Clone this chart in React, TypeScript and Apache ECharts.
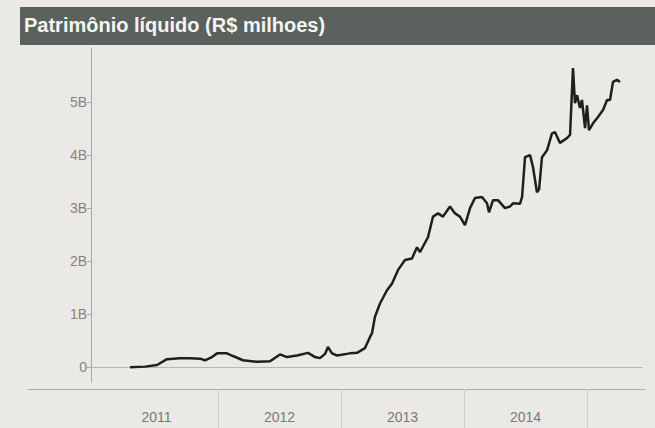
import { useEffect, useRef } from "react";
import * as echarts from "echarts";

const titleText = "Patrimônio líquido (R$ milhoes)";

// time as decimal years
const times = [
  2011.285, 2011.407, 2011.504, 2011.585, 2011.691, 2011.772, 2011.854, 2011.894, 2011.951, 2011.992,
  2012.073, 2012.122, 2012.203, 2012.317, 2012.423, 2012.504, 2012.561, 2012.642, 2012.732, 2012.789,
  2012.829, 2012.870, 2012.894, 2012.927, 2012.967, 2013.073, 2013.130, 2013.195, 2013.236, 2013.252,
  2013.276, 2013.317, 2013.374, 2013.415, 2013.463, 2013.520, 2013.577, 2013.618, 2013.642, 2013.707,
  2013.748, 2013.789, 2013.829, 2013.886, 2013.927, 2013.967, 2014.008, 2014.049, 2014.089, 2014.146,
  2014.187, 2014.203, 2014.236, 2014.276, 2014.333, 2014.374, 2014.398, 2014.455, 2014.472, 2014.496,
  2014.537, 2014.561, 2014.593, 2014.610, 2014.634, 2014.675, 2014.715, 2014.740, 2014.780, 2014.837,
  2014.862, 2014.886, 2014.902, 2014.919, 2014.943, 2014.959, 2014.984, 2015.000, 2015.016, 2015.049,
  2015.089, 2015.130, 2015.163, 2015.187, 2015.211, 2015.244, 2015.268,
];

// patrimônio líquido, R$ billions
const values = [
  0.0, 0.01, 0.04, 0.15, 0.17, 0.17, 0.16, 0.13, 0.19, 0.26,
  0.26, 0.21, 0.13, 0.10, 0.11, 0.24, 0.19, 0.22, 0.27, 0.19,
  0.17, 0.25, 0.38, 0.26, 0.22, 0.26, 0.27, 0.36, 0.57, 0.64,
  0.95, 1.2, 1.45, 1.58, 1.83, 2.02, 2.05, 2.26, 2.17, 2.45,
  2.84, 2.9, 2.84, 3.03, 2.9, 2.84, 2.68, 3.0, 3.19, 3.21,
  3.09, 2.92, 3.15, 3.15, 3.0, 3.03, 3.09, 3.08, 3.21, 3.96,
  4.0, 3.77, 3.3, 3.35, 3.96, 4.09, 4.41, 4.43, 4.23, 4.32,
  4.38, 5.64, 4.98, 5.13, 4.89, 5.04, 4.51, 4.94, 4.47, 4.6,
  4.72, 4.85, 5.04, 5.04, 5.38, 5.42, 5.38,
];

const yTicks = [0, 1, 2, 3, 4, 5];
const yearLabelPositions = [2011.5, 2012.5, 2013.5, 2014.5];
const yearDividers = [2012, 2013, 2014, 2015];

const FONT = "'Liberation Sans', Arial, sans-serif";

export default function App() {
  const ref = useRef<HTMLDivElement>(null);

  useEffect(() => {
    const chart = echarts.init(ref.current!, null, { renderer: "svg" });
    chart.setOption({
      animation: false,
      backgroundColor: "#ebe9e5",
      textStyle: { fontFamily: FONT },
      title: {
        text: titleText,
        left: 24,
        top: 15,
        padding: 0,
        textStyle: { color: "#f4f4f2", fontSize: 20, fontWeight: "bold", fontFamily: FONT },
      },
      graphic: [
        {
          type: "rect",
          z: -1,
          shape: { x: 20, y: 7, width: 635, height: 38 },
          style: { fill: "#5b615c" },
        },
      ],
      grid: [
        { left: 91, right: 13, top: 48, bottom: 46 },
        { left: 28, right: 10, top: 388, height: 1 },
      ],
      xAxis: [
        {
          type: "value",
          gridIndex: 0,
          min: 2010.9675,
          max: 2015.447,
          axisLine: { show: true, onZero: true, lineStyle: { color: "#b9b7b3", width: 1 } },
          axisTick: { show: false },
          axisLabel: { show: false },
          splitLine: { show: false },
        },
        {
          type: "value",
          gridIndex: 1,
          position: "bottom",
          min: 2010.4553,
          max: 2015.4715,
          axisLine: { show: true, lineStyle: { color: "#aeaca8", width: 1 } },
          axisTick: {
            show: true,
            customValues: yearDividers,
            length: 40,
            lineStyle: { color: "#cfcdc9", width: 1 },
          },
          axisLabel: {
            show: true,
            customValues: yearLabelPositions,
            formatter: (v: number) => String(Math.floor(v)),
            color: "#7a7875",
            fontSize: 14,
            fontFamily: FONT,
            margin: 21,
          },
          splitLine: { show: false },
        },
      ],
      yAxis: [
        {
          type: "value",
          gridIndex: 0,
          min: -0.28,
          max: 6.02,
          axisLine: { show: true, lineStyle: { color: "#a9a7a3", width: 1 } },
          axisTick: {
            show: true,
            customValues: yTicks,
            length: 4,
            lineStyle: { color: "#a9a7a3" },
          },
          axisLabel: {
            show: true,
            customValues: yTicks,
            formatter: (v: number) => (v === 0 ? "0" : `${v}B`),
            color: "#858380",
            fontSize: 14,
            fontFamily: FONT,
            margin: 4,
          },
          splitLine: { show: false },
        },
        {
          type: "value",
          gridIndex: 1,
          min: 0,
          max: 1,
          show: false,
        },
      ],
      series: [
        {
          type: "line",
          xAxisIndex: 0,
          yAxisIndex: 0,
          data: times.map((t, i) => [t, values[i]]),
          showSymbol: false,
          symbol: "none",
          lineStyle: { color: "#1f1f1f", width: 2.5 },
          smooth: false,
        },
      ],
    });
    return () => chart.dispose();
  }, []);

  return (
    <div
      ref={ref}
      style={{ position: "fixed", left: 0, top: 0, width: 655, height: 428 }}
    />
  );
}
